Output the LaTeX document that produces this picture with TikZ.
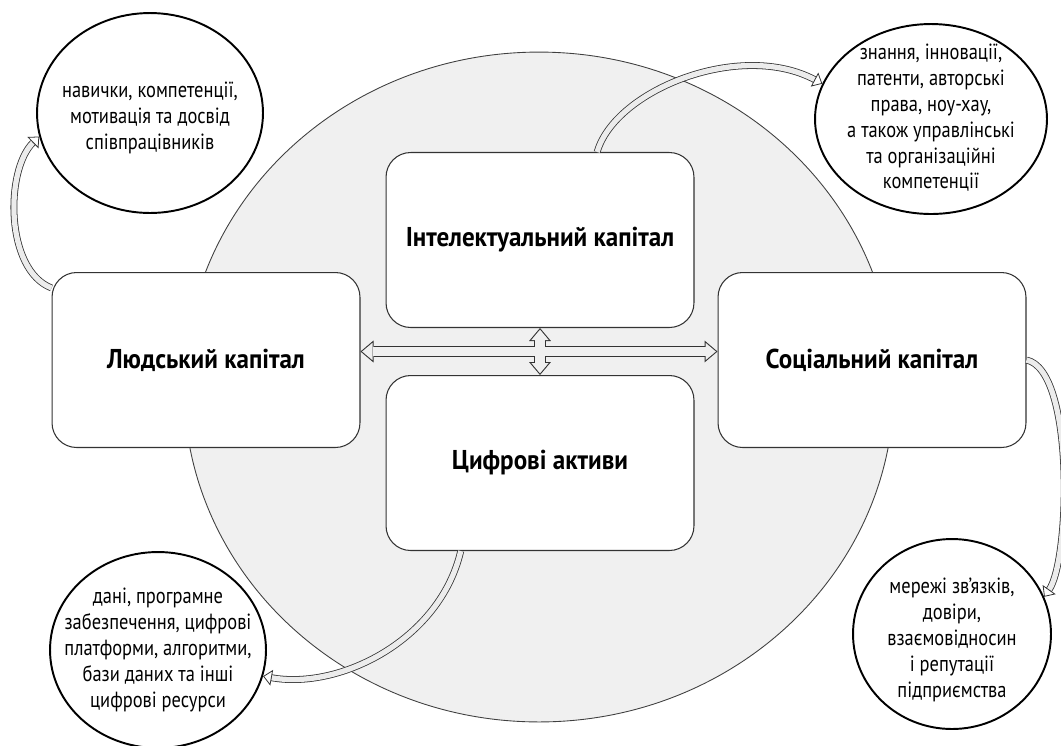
\documentclass[tikz,border=0pt]{standalone}
\usepackage{fontspec}
\setmainfont{PT Sans}[FakeStretch=0.84]
\newfontfamily\capfont{PT Sans}[FakeStretch=0.92]
\usepackage{tikz}
\usepackage{xcolor}
\usetikzlibrary{arrows.meta,shapes.geometric,calc}

\tikzset{
  capbox/.style={draw=black!80, line width=0.6pt, fill=white, rounded corners=14pt,
    minimum width=6.16cm, minimum height=3.5cm, font=\capfont\bfseries\fontsize{15.5}{18}\selectfont},
  note/.style={ellipse, draw=black, line width=1.1pt, fill=white, inner sep=0pt},
  notetext/.style={align=center, inner sep=0pt, font=\fontsize{12.5}{14.7}\selectfont},
  hollow/.style={draw=black!80, line width=0.45pt, double=gray!15, double distance=3pt,
    -{Triangle[open,length=5pt,width=9pt]}},
  arrowout/.style={draw=black!80, line width=6.8pt,
    {Triangle[length=7.4pt,width=12.5pt,line width=0pt]}-{Triangle[length=7.4pt,width=12.5pt,line width=0pt]}},
  arrowin/.style={draw=gray!12, line width=5.6pt, shorten >=0.93pt, shorten <=0.93pt,
    {Triangle[length=5.9pt,width=9.9pt,line width=0pt]}-{Triangle[length=5.9pt,width=9.9pt,line width=0pt]}}
}

\begin{document}
\begin{tikzpicture}[x=0.02cm, y=-0.02cm]
 \useasboundingbox (0,0) rectangle (1061,745);
 \draw[draw=black!75, fill=gray!12, line width=0.5pt] (539,387) ellipse [x radius=7.1cm, y radius=6.7cm];
 \node[capbox] (hum) at (206,360) {Людський капітал};
 \node[capbox] (intel) at (540,240) {Інтелектуальний капітал};
 \node[capbox] (digi) at (540,463) {Цифрові активи};
 \node[capbox] (soc) at (872,360) {Соціальний капітал};
 \node[note, minimum width=4.52cm, minimum height=4cm] (hnote) at (150,113) {};
 \node[notetext] (htext) at (150,118) {навички, компетенції,\\мотивація та досвід\\співпрацівників};
 \node[note, minimum width=4.64cm, minimum height=3.8cm] (inote) at (931,119) {};
 \node[notetext] (itext) at (931,118) {знання, інновації,\\патенти, авторські\\права, ноу-хау,\\а також управлінські\\та організаційні\\компетенції};
 \node[note, minimum width=3.96cm, minimum height=3.8cm] (snote) at (952,634) {};
 \node[notetext] (stext) at (952,640) {мережі зв’язків,\\довіри,\\взаємовідносин\\і репутації\\підприємства};
 \node[note, minimum width=4.32cm, minimum height=3.92cm] (dnote) at (158,650) {};
 \node[notetext] (dtext) at (158,650) {дані, програмне\\забезпечення, цифрові\\платформи, алгоритми,\\бази даних та інші\\цифрові ресурси};
 \coordinate (mid) at ($(intel.south)!0.5!(digi.north)$);
 \draw[arrowout] (hum.east |- mid) -- (soc.west |- mid);
 \draw[arrowout] (intel.south) -- (digi.north);
 \draw[arrowin] (hum.east |- mid) -- (soc.west |- mid);
 \draw[arrowin] (intel.south) -- (digi.north);
 \draw[hollow] (hum.155) .. controls (5,270) and (5,170) .. (hnote.192);
 \draw[hollow] (intel.57) .. controls (615,90) and (740,40) .. (inote.162);
 \draw[hollow] (soc.east) .. controls (1075,370) and (1070,560) .. (snote.22);
 \draw[hollow] (digi.228) .. controls (440,640) and (340,690) .. (dnote.-14);
\end{tikzpicture}
\end{document}
